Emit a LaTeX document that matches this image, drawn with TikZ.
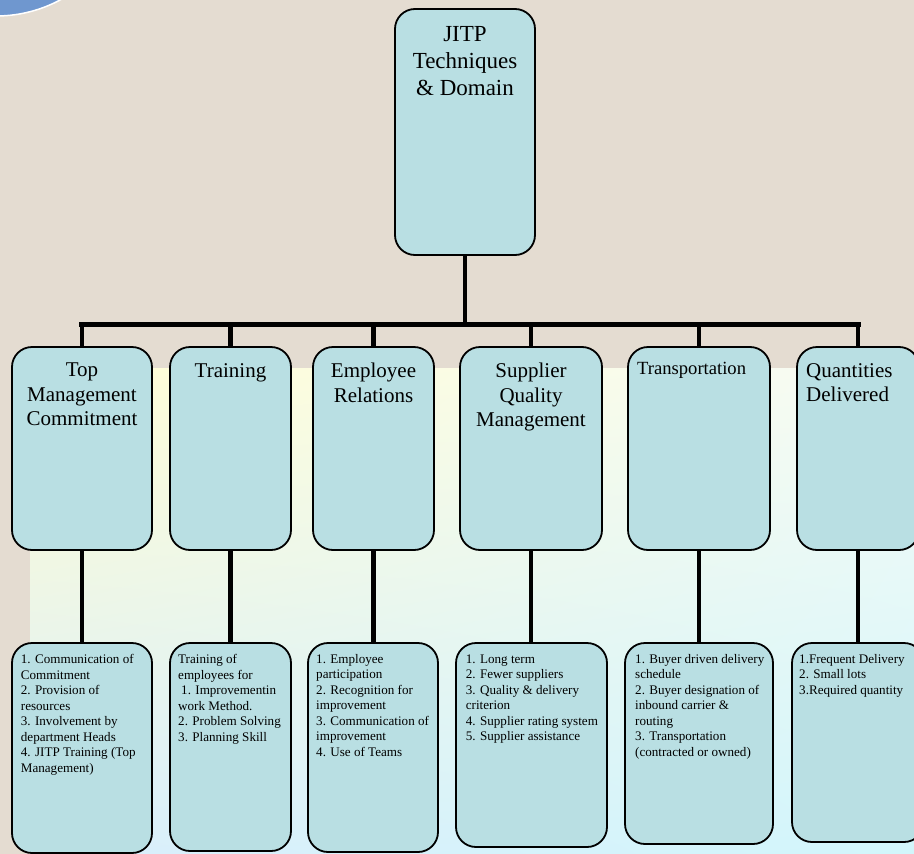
\documentclass[tikz,border=0pt]{standalone}
\usepackage{fontspec}
\setmainfont{Liberation Serif}
\usetikzlibrary{shadings}
\definecolor{beige}{HTML}{E4DCD1}
\definecolor{boxfill}{HTML}{B9DFE3}
\definecolor{circblue}{HTML}{6F97CF}
\definecolor{paleyellow}{HTML}{FFFDD4}
\definecolor{palewhite}{HTML}{F6FBF6}
\definecolor{paleblue}{HTML}{DAEEFB}
\definecolor{palecyan}{HTML}{D2F6FB}
\tikzset{
  box/.style={draw=black, line width=1.8pt, fill=boxfill, rounded corners=20pt, inner sep=0pt},
  conn/.style={line width=4.6pt},
  busline/.style={line width=5.6pt, line cap=rect},
  toptext/.style={font=\fontsize{23}{27}\selectfont, align=center, inner sep=0pt, anchor=north},
  midtext/.style={font=\fontsize{21}{24.5}\selectfont, align=center, inner sep=0pt, anchor=north},
  midtextl/.style={font=\fontsize{21}{24.5}\selectfont, align=left, inner sep=0pt, anchor=north west},
  smalltext/.style={font=\fontsize{18.6}{22}\selectfont, align=left, inner sep=0pt, anchor=north west},
  bottext/.style={font=\fontsize{13.1}{15.5}\selectfont, align=left, inner sep=0pt, anchor=north west},
}
\begin{document}
\begin{tikzpicture}[x=1pt, y=-1pt]
\useasboundingbox (0,0) rectangle (914,854);
\clip (0,0) rectangle (914,854);
% background
\fill[beige] (0,0) rectangle (914,854);
\shade[upper left=paleyellow, upper right=palewhite, lower left=paleblue, lower right=palecyan] (30,368) rectangle (914,854);
\fill[circblue, draw=white, line width=1.5pt] (-4,-120) circle (136);

% root
\node[box, minimum width=140pt, minimum height=246pt] (top) at (465,132) {};
\node[toptext] (t0) at (465,25.8) {JITP\\Techniques\\\& Domain};

% middle row
\node[box, minimum width=140pt, minimum height=203pt] (m1) at (82,448.5) {};
\node[box, minimum width=121pt, minimum height=203pt] (m2) at (230.5,448.5) {};
\node[box, minimum width=121pt, minimum height=203pt] (m3) at (373.5,448.5) {};
\node[box, minimum width=142pt, minimum height=203pt] (m4) at (531,448.5) {};
\node[box, minimum width=142pt, minimum height=203pt] (m5) at (699,448.5) {};
\node[box, minimum width=122pt, minimum height=203pt] (m6) at (858,448.5) {};

\node[midtext] (tm1) at (82,363) {Top\\Management\\Commitment};
\node[midtext] (tm2) at (230.5,363) {Training};
\node[midtext] (tm3) at (373.5,363) {Employee\\Relations};
\node[midtext] (tm4) at (531,363) {Supplier\\Quality\\Management};
\node[smalltext] (tm5) at (637,361.5) {Transportation};
\node[midtextl] (tm6) at (806,363) {Quantities\\Delivered};

% bottom row
\node[box, minimum width=140pt, minimum height=210pt] (b1) at (82,748) {};
\node[box, minimum width=121pt, minimum height=208pt] (b2) at (230.5,747) {};
\node[box, minimum width=130pt, minimum height=209pt] (b3) at (373,747.5) {};
\node[box, minimum width=151pt, minimum height=204pt] (b4) at (531.5,745) {};
\node[box, minimum width=148pt, minimum height=201pt] (b5) at (699,743.5) {};
\node[box, minimum width=132pt, minimum height=199pt] (b6) at (858,742.5) {};

\node[bottext] (tb1) at (20.7,654.2) {1. Communication of\\Commitment\\2. Provision of\\resources\\3. Involvement by\\department Heads\\4. JITP Training (Top\\Management)};
\node[bottext] (tb2) at (178,654.2) {Training of\\employees for\\\hspace*{3pt}1. Improvementin\\work Method.\\2. Problem Solving\\3. Planning Skill};
\node[bottext] (tb3) at (316,654.2) {1. Employee\\participation\\2. Recognition for\\improvement\\3. Communication of\\improvement\\4. Use of Teams};
\node[bottext] (tb4) at (465.7,654.2) {1. Long term\\2. Fewer suppliers\\3. Quality \& delivery\\criterion\\4. Supplier rating system\\5. Supplier assistance};
\node[bottext] (tb5) at (635,654.2) {1. Buyer driven delivery\\schedule\\2. Buyer designation of\\inbound carrier \&\\routing\\3. Transportation\\(contracted or owned)};
\node[bottext] (tb6) at (799,654.2) {1.Frequent Delivery\\2. Small lots\\3.Required quantity};

% connectors
\coordinate (bus) at (465,324.5);
\draw[conn] (top.south) -- (top.south |- bus);
\draw[busline] (m1.north |- bus) -- (m6.north |- bus);
\foreach \i in {1,...,6} {
  \draw[conn] (m\i.north |- bus) -- (m\i.north);
  \draw[conn] (m\i.south) -- (m\i.south |- b\i.north);
}
\end{tikzpicture}
\end{document}
